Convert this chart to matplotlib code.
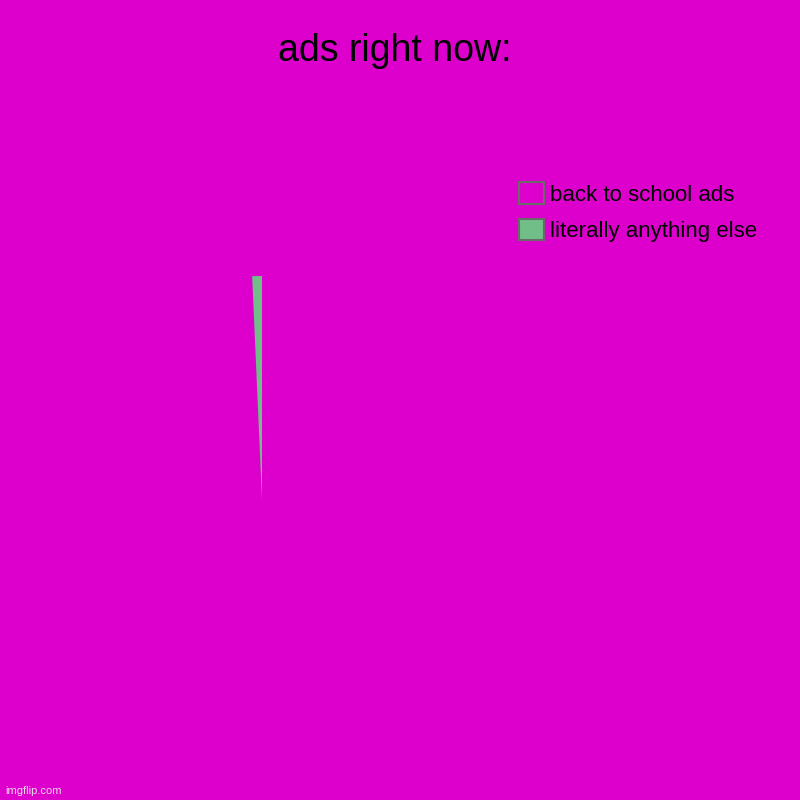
import matplotlib.pyplot as plt

plt.rcParams['font.family'] = ['Liberation Sans', 'DejaVu Sans']

title = 'ads right now:'
labels = ['back to school ads', 'literally anything else']
values = [99.3, 0.7]
colors = ['#DD00CC', '#71BE88']
bg = '#DD00CC'

fig = plt.figure(figsize=(8, 8), dpi=100, facecolor=bg)
fig.text(0.494, 0.936, title, ha='center', va='center', fontsize=27, color='black')

# pie centred at roughly (262, 500) px, radius ~224 px
ax = fig.add_axes([0.3275 - 0.28, 0.375 - 0.28, 0.56, 0.56])
ax.set_facecolor(bg)
wedges, _ = ax.pie(values, colors=colors, startangle=90, counterclock=False,
                   radius=1, wedgeprops=dict(linewidth=0))
ax.set_xlim(-1, 1)
ax.set_ylim(-1, 1)
ax.set_aspect('equal')
ax.axis('off')

leg = fig.legend(wedges, labels, loc='upper left',
                 bbox_to_anchor=(0.649, 0.772), frameon=False,
                 fontsize=16, handlelength=1.1, handleheight=1.1,
                 handletextpad=0.3, labelspacing=0.6, borderpad=0,
                 borderaxespad=0)
for h in leg.legend_handles:
    h.set_edgecolor('#6a6a6a')
    h.set_linewidth(1.5)

fig.text(0.006, 0.011, 'imgflip.com', fontsize=8, color='#e8d8e8',
         ha='left', va='center')

fig.savefig('out.png', dpi=100, facecolor=bg)
